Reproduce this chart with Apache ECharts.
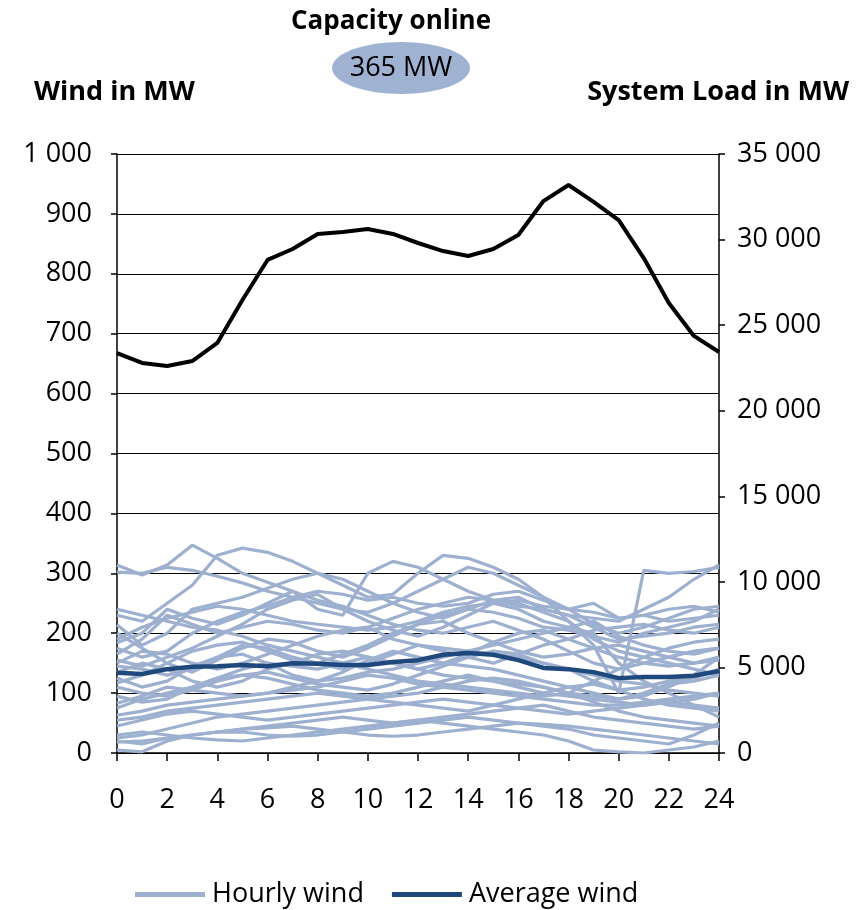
<!DOCTYPE html>
<html><head><meta charset="utf-8">
<script src="https://cdn.jsdelivr.net/npm/echarts@6/dist/echarts.min.js"></script>
<style>html,body{margin:0;padding:0;background:#fff}#c{width:868px;height:910px}</style>
</head><body><div id="c"></div>
<script>
const hours = [0,1,2,3,4,5,6,7,8,9,10,11,12,13,14,15,16,17,18,19,20,21,22,23,24];
const xTicks = [0,2,4,6,8,10,12,14,16,18,20,22,24];
const leftTicks = [0,100,200,300,400,500,600,700,800,900,1000];
const rightTicks = [0,5000,10000,15000,20000,25000,30000,35000];

const systemLoad = [23370,22790,22610,22900,23960,26470,28810,29450,30330,30440,30620,30330,29800,29330,29040,29450,30270,32250,33190,32200,31140,28920,26290,24370,23430];
const averageWind = [134,132,140,144,145,147,145,150,149,147,147,152,155,164,167,164,155,142,140,135,125,127,127,129,137];

const hw01 = [314,297,314,347,325,300,285,270,255,245,230,215,205,200,210,220,205,190,170,150,140,150,160,170,175];
const hw02 = [302,300,310,305,295,284,270,260,250,240,235,250,270,290,310,300,280,260,240,215,200,210,225,240,245];
const hw03 = [230,220,250,280,330,342,335,320,300,290,270,250,235,225,240,255,250,235,220,190,170,160,150,140,130];
const hw04 = [214,180,200,240,250,260,275,290,300,280,260,265,300,330,325,310,290,260,220,180,100,305,300,303,310];
const hw05 = [184,200,240,225,215,230,250,270,240,230,300,320,310,290,270,255,260,240,230,225,220,240,260,290,314];
const hw06 = [175,160,170,200,220,235,245,260,270,265,255,260,250,245,250,265,270,255,240,235,225,230,240,245,235];
const hw07 = [165,190,230,215,200,210,220,215,205,200,210,225,240,250,260,255,245,240,230,210,190,195,200,210,215];
const hw08 = [155,145,160,175,195,215,240,255,265,240,220,205,195,210,230,250,255,245,240,250,225,230,220,225,230];
const hw09 = [200,175,150,135,155,175,190,185,170,160,175,195,215,230,240,235,225,210,205,195,185,200,210,220,240];
const hw10 = [150,170,165,150,140,150,165,180,195,205,210,190,180,170,160,150,165,180,190,205,210,215,205,200,210];
const hw11 = [145,140,130,140,160,180,175,160,150,140,150,165,180,175,170,180,190,200,210,220,195,180,170,165,175];
const hw12 = [117,130,150,170,180,185,170,155,150,165,180,200,215,220,200,185,170,160,165,175,180,170,160,150,155];
const hw13 = [135,150,140,120,110,120,140,150,165,170,160,150,140,150,165,185,200,205,190,175,160,150,145,150,160];
const hw14 = [125,110,120,145,160,165,150,130,120,135,155,170,160,150,145,140,130,120,110,100,90,95,110,130,160];
const hw15 = [110,100,95,105,120,130,135,125,115,110,105,115,130,145,160,170,165,150,140,120,105,110,120,125,140];
const hw16 = [95,85,90,110,125,140,150,145,140,150,160,150,140,130,125,120,115,110,100,95,90,100,115,120,130];
const hw17 = [83,95,110,105,100,95,100,110,120,125,135,140,150,160,170,165,160,150,140,130,120,115,105,100,95];
const hw18 = [75,90,100,110,125,130,125,115,105,100,95,100,110,120,130,120,110,100,95,90,85,80,85,90,100];
const hw19 = [63,70,80,85,90,95,100,105,110,120,130,125,115,110,105,100,95,90,85,80,80,85,90,95,100];
const hw20 = [55,60,70,75,80,85,90,95,100,95,90,85,80,75,70,80,90,100,110,115,105,90,80,75,70];
const hw21 = [45,55,65,70,65,60,55,60,65,70,75,80,85,90,85,80,75,70,65,70,75,80,85,80,75];
const hw22 = [25,30,40,50,60,65,70,75,80,85,90,95,100,110,120,125,120,110,100,85,70,60,55,50,45];
const hw23 = [18,20,25,30,35,40,45,50,55,60,55,50,55,60,65,70,75,80,70,60,55,50,45,40,45];
const hw24 = [5,2,20,30,35,40,42,45,40,35,30,28,30,35,40,45,50,48,45,40,35,30,25,20,15];
const hw25 = [30,35,30,25,22,20,25,30,35,40,45,50,55,50,45,40,35,30,20,5,2,0,5,10,20];
const hw26 = [20,15,25,30,35,35,30,28,30,35,40,45,50,55,60,55,50,45,40,30,25,20,15,30,50];
const hw27 = [240,230,220,210,205,195,180,170,160,150,140,130,120,115,110,105,100,95,100,120,140,160,175,185,190];
const hw28 = [190,210,225,235,245,240,230,220,215,210,205,210,220,235,245,250,240,220,210,200,150,120,100,80,60];

const hourlyWind = [hw01,hw02,hw03,hw04,hw05,hw06,hw07,hw08,hw09,hw10,hw11,hw12,hw13,hw14,hw15,hw16,hw17,hw18,hw19,hw20,hw21,hw22,hw23,hw24,hw25,hw26,hw27,hw28];

const FONT = '"Open Sans", "Noto Sans", sans-serif';
const pairs = arr => hours.map((h,i)=>[h,arr[i]]);
const fmt = v => String(v).replace(/\B(?=(\d{3})+(?!\d))/g, ' ');

const series = [];
hourlyWind.forEach(arr => series.push({
  name:'Hourly wind', type:'line', yAxisIndex:0, data:pairs(arr), symbol:'none',
  lineStyle:{color:'#9DB0D0', width:3.2}, itemStyle:{color:'#9DB0D0'}, z:2, animation:false
}));
series.push({name:'Average wind', type:'line', yAxisIndex:0, data:pairs(averageWind), symbol:'none',
  lineStyle:{color:'#1F497D', width:4.5}, itemStyle:{color:'#1F497D'}, z:4, animation:false});
series.push({name:'System load', type:'line', yAxisIndex:1, data:pairs(systemLoad), symbol:'none',
  lineStyle:{color:'#000', width:4}, itemStyle:{color:'#000'}, z:5, animation:false});

const chart = echarts.init(document.getElementById('c'));
chart.setOption({
  animation:false,
  grid:{left:117, right:149, top:154, bottom:157, containLabel:false},
  legend:{data:['Hourly wind','Average wind'], top:876, left:130, itemWidth:70, itemHeight:5, itemGap:28,
    icon:'rect', textStyle:{fontFamily:FONT, fontSize:27, color:'#000', padding:[0,0,0,2]}},
  xAxis:{type:'value', min:0, max:24, interval:2,
    axisLine:{lineStyle:{color:'#000', width:1.5}},
    axisTick:{show:true, length:8, lineStyle:{color:'#000', width:1.5}},
    splitLine:{show:false},
    axisLabel:{color:'#000', fontFamily:FONT, fontSize:27, margin:34, formatter:v=>xTicks.includes(v)?String(v):''}},
  yAxis:[
    {type:'value', min:0, max:1000, interval:100, position:'left',
     axisLine:{show:true, lineStyle:{color:'#000', width:1.5}},
     axisTick:{show:true, length:6, lineStyle:{color:'#000', width:1.5}},
     splitLine:{show:true, lineStyle:{color:'#000', width:1.2}},
     axisLabel:{color:'#000', fontFamily:FONT, fontSize:27, margin:25, formatter:v=>leftTicks.includes(v)?fmt(v):''}},
    {type:'value', min:0, max:35000, interval:5000, position:'right',
     axisLine:{show:true, lineStyle:{color:'#000', width:1.5}},
     axisTick:{show:true, length:6, lineStyle:{color:'#000', width:1.5}},
     splitLine:{show:false},
     axisLabel:{color:'#000', fontFamily:FONT, fontSize:27, margin:18, formatter:v=>rightTicks.includes(v)?fmt(v):''}}
  ],
  graphic:[
    {type:'text', x:391, y:22, style:{text:'Capacity online', font:'bold 26px '+FONT, fill:'#000', align:'center', verticalAlign:'middle'}, z:10},
    {type:'ellipse', shape:{cx:401, cy:68, rx:69, ry:26}, style:{fill:'#A0B2D2'}, z:9},
    {type:'text', x:401, y:68, style:{text:'365 MW', font:'27px '+FONT, fill:'#000', align:'center', verticalAlign:'middle'}, z:10},
    {type:'text', x:34, y:92, style:{text:'Wind in MW', font:'bold 27px '+FONT, fill:'#000', verticalAlign:'middle'}, z:10},
    {type:'text', x:849, y:92, style:{text:'System Load in MW', font:'bold 27px '+FONT, fill:'#000', align:'right', verticalAlign:'middle'}, z:10}
  ],
  series:series
});
</script></body></html>
